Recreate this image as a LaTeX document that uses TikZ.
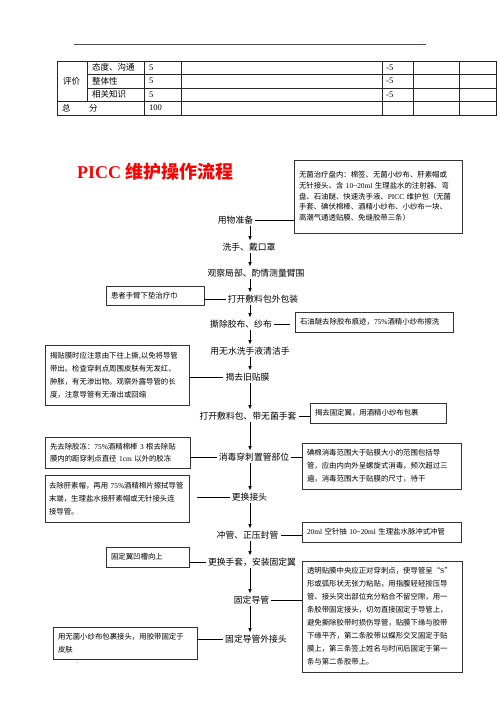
\documentclass[tikz,border=0pt]{standalone}
\usepackage{fontspec}
\usepackage{xcolor}
\setmainfont{Noto Sans CJK SC}
\newfontfamily\lat{Liberation Serif}
\usepackage{tikz}
\usetikzlibrary{arrows.meta}

\newcommand{\stepfont}{\fontsize{8.8}{10}\selectfont}
\newcommand{\notefont}{\fontsize{7.4}{13}\selectfont}
\newcommand{\cellfont}{\fontsize{8.5}{10}\selectfont}

\tikzset{
  stepnode/.style={font=\stepfont, inner sep=2pt},
  notebox/.style={draw=black!80, line width=0.8pt, font=\notefont, align=left, inner xsep=5pt, inner ysep=0pt},
  flowarrow/.style={-{Latex[length=4.5pt,width=3.5pt]}, line width=0.8pt},
  link/.style={line width=0.9pt},
  cell/.style={font=\cellfont, anchor=west, inner sep=0pt},
  grid/.style={line width=0.8pt, draw=black!85}
}

\begin{document}
\begin{tikzpicture}[x=1pt, y=-1pt]
  \fill[white] (0,0) rectangle (500,707);
  \useasboundingbox (0,0) rectangle (500,707);

  \draw[line width=0.6pt, black!70] (74,44) -- (426,44);
  \node[font=\fontsize{4}{4}\selectfont, inner sep=0pt] (dotsA) at (422,42) {..};

  \draw[grid] (57,61) rectangle (496,115);
  \draw[grid] (87,74) -- (496,74);
  \draw[grid] (87,88) -- (496,88);
  \draw[grid] (57,101) -- (496,101);
  \draw[grid] (87,61) -- (87,101);
  \draw[grid] (144,61) -- (144,115);
  \draw[grid] (181,61) -- (181,115);
  \draw[grid] (382,61) -- (382,115);
  \draw[grid] (413,61) -- (413,115);
  \draw[grid] (459,61) -- (459,115);
  \node[cell] (pj) at (63,81) {评价};
  \node[cell] (r1) at (92,67.5) {态度、沟通};
  \node[cell] (r2) at (92,81) {整体性};
  \node[cell] (r3) at (92,94.5) {相关知识};
  \node[cell] (zf1) at (62,108) {总};
  \node[cell] (zf2) at (89,108) {分};
  \node[cell] (s1) at (149,67.5) {\lat 5};
  \node[cell] (s2) at (149,81) {\lat 5};
  \node[cell] (s3) at (149,94.5) {\lat 5};
  \node[cell] (s4) at (149,108) {\lat 100};
  \node[cell] (d1) at (386,67.5) {\lat -5};
  \node[cell] (d2) at (386,81) {\lat -5};
  \node[cell] (d3) at (386,94.5) {\lat -5};

  \node[anchor=west, inner sep=0pt, text=red, font=\fontsize{18}{20}\selectfont\bfseries] (title) at (77,172) {{\lat PICC} 维护操作流程};

  \coordinate (spine) at (250,0);
  \node[stepnode] (n1) at (235.5,220) {用物准备};
  \node[stepnode] (n2) at (249,247) {洗手、戴口罩};
  \node[stepnode] (n3) at (256,273) {观察局部、酌情测量臂围};
  \node[stepnode] (n4) at (263,299) {打开敷料包外包装};
  \node[stepnode] (n5) at (241,324) {撕除胶布、纱布};
  \node[stepnode] (n6) at (250,351) {用无水洗手液清洁手};
  \node[stepnode] (n7) at (247.5,377) {揭去旧贴膜};
  \node[stepnode] (n8) at (248,416) {打开敷料包、带无菌手套};
  \node[stepnode] (n9) at (254,457) {消毒穿刺置管部位};
  \node[stepnode] (n10) at (249.5,497) {更换接头};
  \node[stepnode] (n11) at (247.5,535) {冲管、正压封管};
  \node[stepnode] (n12) at (252,562) {更换手套，安装固定翼};
  \node[stepnode] (n13) at (251.5,600) {固定导管};
  \node[stepnode] (n14) at (256,639) {固定导管外接头};

  \node[notebox, text width=158pt, minimum height=73pt, font=\fontsize{7.4}{10.7}\selectfont] (bA) at (378,196.5) {无菌治疗盘内：棉签、无菌小纱布、肝素帽或\\无针接头、含~{\lat 10\textasciitilde 20ml}~生理盐水的注射器、弯\\盘、石油醚、快速洗手液、{\lat PICC}~维护包（无菌\\手套、碘伏棉棒、酒精小纱布、小纱布一块、\\高潮气通透贴膜、免缝胶带三条）};
  \node[notebox, text width=88pt, minimum height=19pt] (bB) at (155,295.5) {患者手臂下垫治疗巾};
  \node[notebox, text width=148pt, minimum height=20pt] (bC) at (374,322) {石油醚去除胶布痕迹，{\lat 75\%}酒精小纱布擦洗};
  \node[notebox, text width=134pt, minimum height=60pt] (bD) at (117,375) {揭贴膜时应注意由下往上撕,以免将导管\\带出。检查穿刺点周围皮肤有无发红、\\肿胀，有无渗出物。观察外露导管的长\\度，注意导管有无滑出或回缩};
  \node[notebox, text width=126pt, minimum height=20pt] (bE) at (378,413) {揭去固定翼，用酒精小纱布包裹};
  \node[notebox, text width=135pt, minimum height=31pt, font=\fontsize{7.4}{11.7}\selectfont] (bF) at (117.5,452.5) {先去除胶冻：{\lat 75\%}酒精棉棒~{\lat 3}~根去除贴\\膜内的距穿刺点直径~{\lat 1cm}~以外的胶冻};
  \node[notebox, text width=149pt, minimum height=46pt] (bG) at (381.5,466) {碘棉消毒范围大于贴膜大小的范围包括导\\管，应由内向外呈螺旋式消毒，频次超过三\\遍，消毒范围大于贴膜的尺寸，待干};
  \node[notebox, text width=136pt, inner xsep=4pt, minimum height=47pt] (bH) at (117,498.5) {去除肝素帽，再用~{\lat 75\%}酒精棉片擦拭导管\\末端，生理盐水接肝素帽或无针接头连\\接导管。};
  \node[notebox, text width=149pt, minimum height=20pt] (bI) at (381.5,532) {{\lat 20ml}~空针抽~{\lat 10\textasciitilde 20ml}~生理盐水脉冲式冲管};
  \node[notebox, text width=73pt, minimum height=20pt] (bJ) at (147.5,557) {固定翼凹槽向上};
  \node[notebox, text width=150pt, minimum height=111pt] (bK) at (382,616.5) {透明贴膜中央应正对穿刺点，使导管呈“{\lat S}”\\形或弧形状无张力粘贴，用指腹轻轻按压导\\管、接头突出部位充分粘合不留空隙，用一\\条胶带固定接头，切勿直接固定于导管上，\\避免撕除胶带时损伤导管，贴膜下缘与胶带\\下缘平齐，第二条胶带以蝶形交叉固定于贴\\膜上，第三条签上姓名与时间后固定于第一\\条与第二条胶带上。};
  \node[notebox, text width=134pt, minimum height=32pt] (bL) at (125,643) {用无菌小纱布包裹接头，用胶带固定于\\皮肤};
  \node[font=\fontsize{4}{4}\selectfont, inner sep=0pt] (dotsB) at (77,663) {..};

  \draw[flowarrow] (n1.south -| spine) -- (n2.north -| spine);
  \draw[flowarrow] (n2.south -| spine) -- (n3.north -| spine);
  \draw[flowarrow] (n3.south -| spine) -- (n4.north -| spine);
  \draw[flowarrow] (n4.south -| spine) -- (n5.north -| spine);
  \draw[flowarrow] (n5.south -| spine) -- (n6.north -| spine);
  \draw[flowarrow] (n6.south -| spine) -- (n7.north -| spine);
  \draw[flowarrow] (n7.south -| spine) -- (n8.north -| spine);
  \draw[flowarrow] (n8.south -| spine) -- (n9.north -| spine);
  \draw[flowarrow] (n9.south -| spine) -- (n10.north -| spine);
  \draw[flowarrow] (n10.south -| spine) -- (n11.north -| spine);
  \draw[flowarrow] (n11.south -| spine) -- (n12.north -| spine);
  \draw[flowarrow] (n12.south -| spine) -- (n13.north -| spine);
  \draw[flowarrow] (n13.south -| spine) -- (n14.north -| spine);

  \draw[link] (n1.east) -- (n1.east -| bA.west);
  \draw[link] (n4.west) -- (n4.west -| bB.east);
  \draw[link, shorten >=5pt] (n5.east) -- (n5.east -| bC.west);
  \draw[link] (n7.west) -- (n7.west -| bD.east);
  \draw[link] (n8.east) -- (n8.east -| bE.west);
  \draw[link] (n9.west) -- (n9.west -| bF.east);
  \draw[link] (n9.east) -- (n9.east -| bG.west);
  \draw[link, shorten >=8pt] (n10.west) -- (n10.west -| bH.east);
  \draw[link] (n11.east) -- (n11.east -| bI.west);
  \draw[link] (n12.west) -- (n12.west -| bJ.east);
  \draw[link] (n13.east) -- (n13.east -| bK.west);
  \draw[link] (n14.west) -- (n14.west -| bL.east);
\end{tikzpicture}
\end{document}
